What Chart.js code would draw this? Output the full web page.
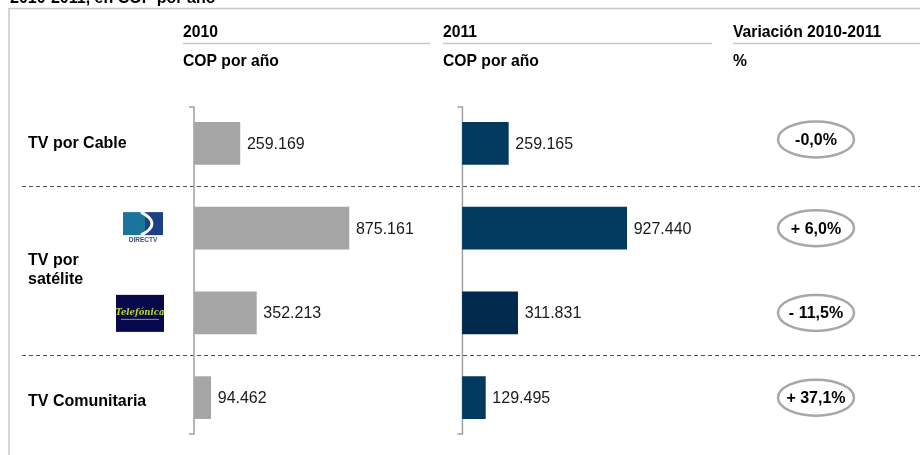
<!DOCTYPE html>
<html>
<head>
<meta charset="utf-8">
<script src="https://cdn.jsdelivr.net/npm/chart.js@4.4.0/dist/chart.umd.min.js"></script>
<style>
  body { margin: 0; background: #fff; }
  canvas { display: block; }
</style>
</head>
<body>
<canvas id="tvChart" width="920" height="455"></canvas>
<script>
// datos del gráfico
const categories = ['TV por Cable', 'DirecTV', 'Telefónica', 'TV Comunitaria'];
const values2010 = [259169, 875161, 352213, 94462];
const values2011 = [259165, 927440, 311831, 129495];
const variation = ['-0,0%', '+ 6,0%', '- 11,5%', '+ 37,1%'];
const rowGroups = [
    { label: ['TV por Cable'], rows: [0] },
    { label: ['TV por', 'satélite'], rows: [1, 2] },
    { label: ['TV Comunitaria'], rows: [3] }
];
const title = '2010-2011, en COP por año';
const headers = [
    { top: '2010', sub: 'COP por año', x: 183, end: 430 },
    { top: '2011', sub: 'COP por año', x: 443, end: 712 },
    { top: 'Variación 2010-2011', sub: '%', x: 733, end: 920 }
];

const FONT = '"Liberation Sans", Arial, sans-serif';
const GRAY = '#a6a6a6';
const NAVY = '#023a5f';
const NAVY_DARK = '#00294d';

// formato de miles con punto
function fmt(n) {
    return n.toString().replace(/\B(?=(\d{3})+(?!\d))/g, '.');
}

function drawLogo(ctx, name, cx, cy) {
    ctx.save();
    if (name === 'DirecTV') {
        const l = cx - 20, t = cy - 16;
        ctx.fillStyle = '#1b7499';
        ctx.fillRect(l, t, 22, 23);
        ctx.fillStyle = '#1d3f86';
        ctx.fillRect(l + 22, t, 18, 23);
        ctx.strokeStyle = '#fff';
        ctx.lineWidth = 3;
        ctx.beginPath();
        ctx.moveTo(l + 18, t);
        ctx.quadraticCurveTo(l + 40, t + 11.5, l + 18, t + 23);
        ctx.stroke();
        ctx.fillStyle = '#3b4c7f';
        ctx.font = 'bold 6.5px ' + FONT;
        ctx.textAlign = 'center';
        ctx.textBaseline = 'middle';
        ctx.fillText('DIRECTV', cx, cy + 12.5);
    } else {
        ctx.fillStyle = '#07074c';
        ctx.fillRect(cx - 24, cy - 18, 48, 37);
        ctx.fillStyle = '#b9d62d';
        ctx.font = 'italic bold 8.5px "DejaVu Serif", serif';
        ctx.textAlign = 'center';
        ctx.textBaseline = 'middle';
        ctx.fillText('Telefónica', cx, cy);
        ctx.strokeStyle = '#8fa83a';
        ctx.lineWidth = 1;
        ctx.beginPath();
        ctx.moveTo(cx - 19, cy + 6.5);
        ctx.lineTo(cx + 19, cy + 6.5);
        ctx.stroke();
    }
    ctx.restore();
}

const decor = {
    id: 'decor',
    beforeDraw(chart) {
        const ctx = chart.ctx;
        const area = chart.chartArea;
        const y = chart.scales.y;
        ctx.save();

        // título cortado arriba
        ctx.fillStyle = '#000';
        ctx.font = 'bold 16px ' + FONT;
        ctx.textBaseline = 'alphabetic';
        ctx.fillText(title, 10, 3);

        // marco
        ctx.strokeStyle = '#c8c8c8';
        ctx.lineWidth = 1.5;
        ctx.beginPath();
        ctx.moveTo(9, 460);
        ctx.lineTo(9, 8.5);
        ctx.lineTo(925, 8.5);
        ctx.stroke();

        // encabezados de columnas
        headers.forEach(h => {
            ctx.fillStyle = '#000';
            ctx.font = 'bold 15.7px ' + FONT;
            ctx.fillText(h.top, h.x, 37);
            ctx.fillText(h.sub, h.x, 65.5);
            ctx.strokeStyle = '#c8c8c8';
            ctx.lineWidth = 1.5;
            ctx.beginPath();
            ctx.moveTo(h.x, 43.5);
            ctx.lineTo(h.end, 43.5);
            ctx.stroke();
        });

        // líneas punteadas entre grupos
        ctx.strokeStyle = '#505050';
        ctx.lineWidth = 1;
        ctx.setLineDash([4, 3]);
        for (let g = 0; g < rowGroups.length - 1; g++) {
            const a = rowGroups[g].rows[rowGroups[g].rows.length - 1];
            const b = rowGroups[g + 1].rows[0];
            const yy = Math.round((y.getPixelForValue(a) + y.getPixelForValue(b)) / 2) + 0.5;
            ctx.beginPath();
            ctx.moveTo(22, yy);
            ctx.lineTo(920, yy);
            ctx.stroke();
        }
        ctx.setLineDash([]);

        // ejes en forma de corchete
        ['x', 'x2'].forEach(id => {
            const x0 = chart.scales[id].getPixelForValue(0);
            const top = area.top + 6, bottom = area.bottom - 6;
            ctx.strokeStyle = '#a0a0a0';
            ctx.lineWidth = 1.5;
            ctx.beginPath();
            ctx.moveTo(x0 - 5, top);
            ctx.lineTo(x0, top);
            ctx.lineTo(x0, bottom);
            ctx.lineTo(x0 - 5, bottom);
            ctx.stroke();
        });

        // etiquetas de filas
        ctx.fillStyle = '#000';
        ctx.font = 'bold 16px ' + FONT;
        ctx.textBaseline = 'middle';
        rowGroups.forEach(g => {
            const ys = g.rows.map(r => y.getPixelForValue(r));
            let cy = (Math.min(...ys) + Math.max(...ys)) / 2;
            if (g.rows[0] === 3) cy += 4;
            const lh = 19;
            g.label.forEach((t, i) => {
                ctx.fillText(t, 28, cy - (g.label.length - 1) * lh / 2 + i * lh);
            });
        });
        ctx.restore();
    },
    afterDatasetsDraw(chart) {
        const ctx = chart.ctx;
        const y = chart.scales.y;
        ctx.save();

        // valores al final de las barras
        ctx.fillStyle = '#1a1a1a';
        ctx.font = '16px ' + FONT;
        ctx.textBaseline = 'middle';
        ctx.textAlign = 'left';
        chart.data.datasets.forEach((ds, di) => {
            chart.getDatasetMeta(di).data.forEach((bar, i) => {
                ctx.fillText(fmt(ds.data[i]), bar.x + 7, bar.y + 1);
            });
        });

        // logos de los operadores satelitales
        drawLogo(ctx, categories[1], 143, y.getPixelForValue(1));
        drawLogo(ctx, categories[2], 140, y.getPixelForValue(2));

        // variaciones en óvalos
        variation.forEach((v, i) => {
            const cy = y.getPixelForValue(i) - (i === 0 ? 4 : 0);
            ctx.strokeStyle = '#a8a8a8';
            ctx.lineWidth = 2.5;
            ctx.beginPath();
            ctx.ellipse(816, cy, 38, 18, 0, 0, Math.PI * 2);
            ctx.stroke();
            ctx.fillStyle = '#000';
            ctx.font = 'bold 16px ' + FONT;
            ctx.textAlign = 'center';
            ctx.fillText(v, 816, cy + 1);
        });
        ctx.restore();
    }
};

new Chart(document.getElementById('tvChart'), {
    type: 'bar',
    data: {
        labels: categories,
        datasets: [{
            label: '2010',
            data: values2010,
            xAxisID: 'x',
            backgroundColor: GRAY,
            barThickness: 42,
            grouped: false
        }, {
            label: '2011',
            data: values2011,
            xAxisID: 'x2',
            backgroundColor: [NAVY, NAVY, NAVY_DARK, NAVY],
            barThickness: 42,
            grouped: false
        }]
    },
    options: {
        responsive: false,
        animation: false,
        devicePixelRatio: 1,
        indexAxis: 'y',
        layout: { padding: { left: 194, right: 0, top: 101, bottom: 15 } },
        plugins: {
            legend: { display: false },
            tooltip: { enabled: false }
        },
        scales: {
            y: { display: false },
            x: { type: 'linear', display: false, min: 0, max: 4100000 },
            x2: { type: 'linear', axis: 'x', display: false, min: -1516000, max: 2584000 }
        }
    },
    plugins: [decor]
});
</script>
</body>
</html>
